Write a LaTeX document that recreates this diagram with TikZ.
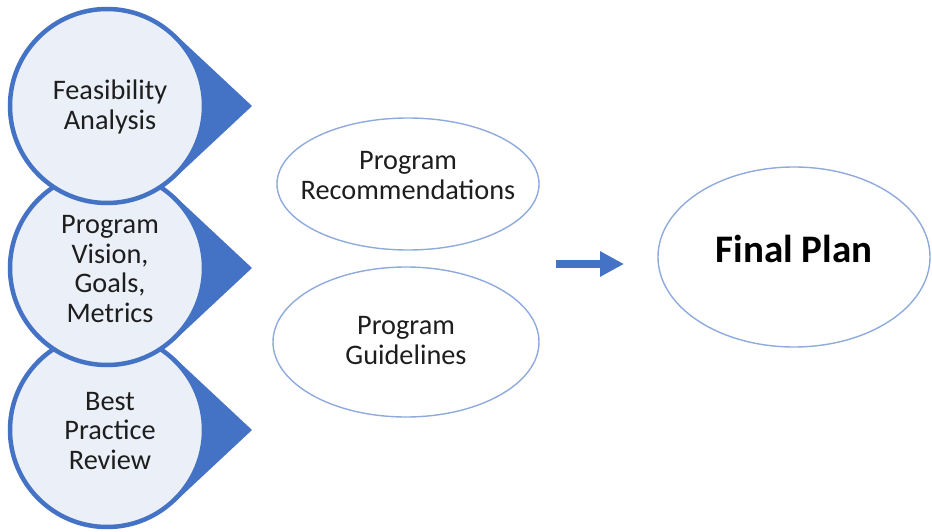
\documentclass[tikz,border=0pt]{standalone}
\usepackage{fontspec}
\setmainfont{Carlito}
\usetikzlibrary{shapes.geometric,arrows.meta,calc}
\definecolor{accent}{RGB}{68,114,196}
\definecolor{softfill}{RGB}{234,239,248}
\definecolor{rimblue}{RGB}{143,170,220}
\definecolor{ink}{RGB}{30,30,30}
\begin{document}
\begin{tikzpicture}[x=1pt,y=-1pt,
  bubble/.style={circle, draw=accent, line width=4.5pt, fill=softfill,
    minimum size=194pt, inner sep=0pt},
  bubbletext/.style={align=center, text=ink, inner sep=0pt,
    font=\fontsize{28.3}{29.5}\selectfont},
  oval/.style={ellipse, draw=rimblue, line width=1.4pt, inner sep=0pt},
  ovaltext/.style={align=center, text=ink, inner sep=0pt,
    font=\fontsize{28.3}{30}\selectfont},
  pointer/.style={fill=accent},
]
\useasboundingbox (0,0) rectangle (932,532);

% centres of the three stacked bubbles
\coordinate (c3) at (107,430);
\coordinate (c2) at (107,268);
\coordinate (c1) at (107,106);

% each bubble: a pointer wedge to the right, then the circle on top
\foreach \c/\n/\t in {c3/review/{Best\\Practice\\Review},
                      c2/vision/{Program\\Vision,\\Goals,\\Metrics},
                      c1/feas/{Feasibility\\Analysis}}{
  \fill[pointer] ($(\c)+(145,0)$) -- ($(\c)+(47.5:99)$) -- ($(\c)+(-47.5:99)$) -- cycle;
  \node[bubble] (\n) at (\c) {};
  \node[bubbletext] (\n-text) at ($(\n)+(3,1)$) {\t};
}

% outcome ellipses
\node[oval, minimum width=262pt, minimum height=132pt] (rec) at (408,184) {};
\node[ovaltext] (rec-text) at ($(rec)+(0,-8)$) {Program\\Recommendations};
\node[oval, minimum width=266pt, minimum height=150pt] (guide) at (406,342) {};
\node[ovaltext] (guide-text) at ($(guide)+(0,-1)$) {Program\\Guidelines};
\node[oval, minimum width=272pt, minimum height=180pt] (final) at (794,257) {};
\node[inner sep=0pt, text=black, font=\fontsize{39}{41}\bfseries]
  (final-text) at ($(final)+(0,-8)$) {Final Plan};

% block arrow towards the final plan
\coordinate (astart) at (556,264);
\coordinate (aend) at (624,264);
\draw[accent, line width=8.5pt, -{Triangle[length=24pt,width=24pt]}] (astart) -- (aend);
\end{tikzpicture}
\end{document}
